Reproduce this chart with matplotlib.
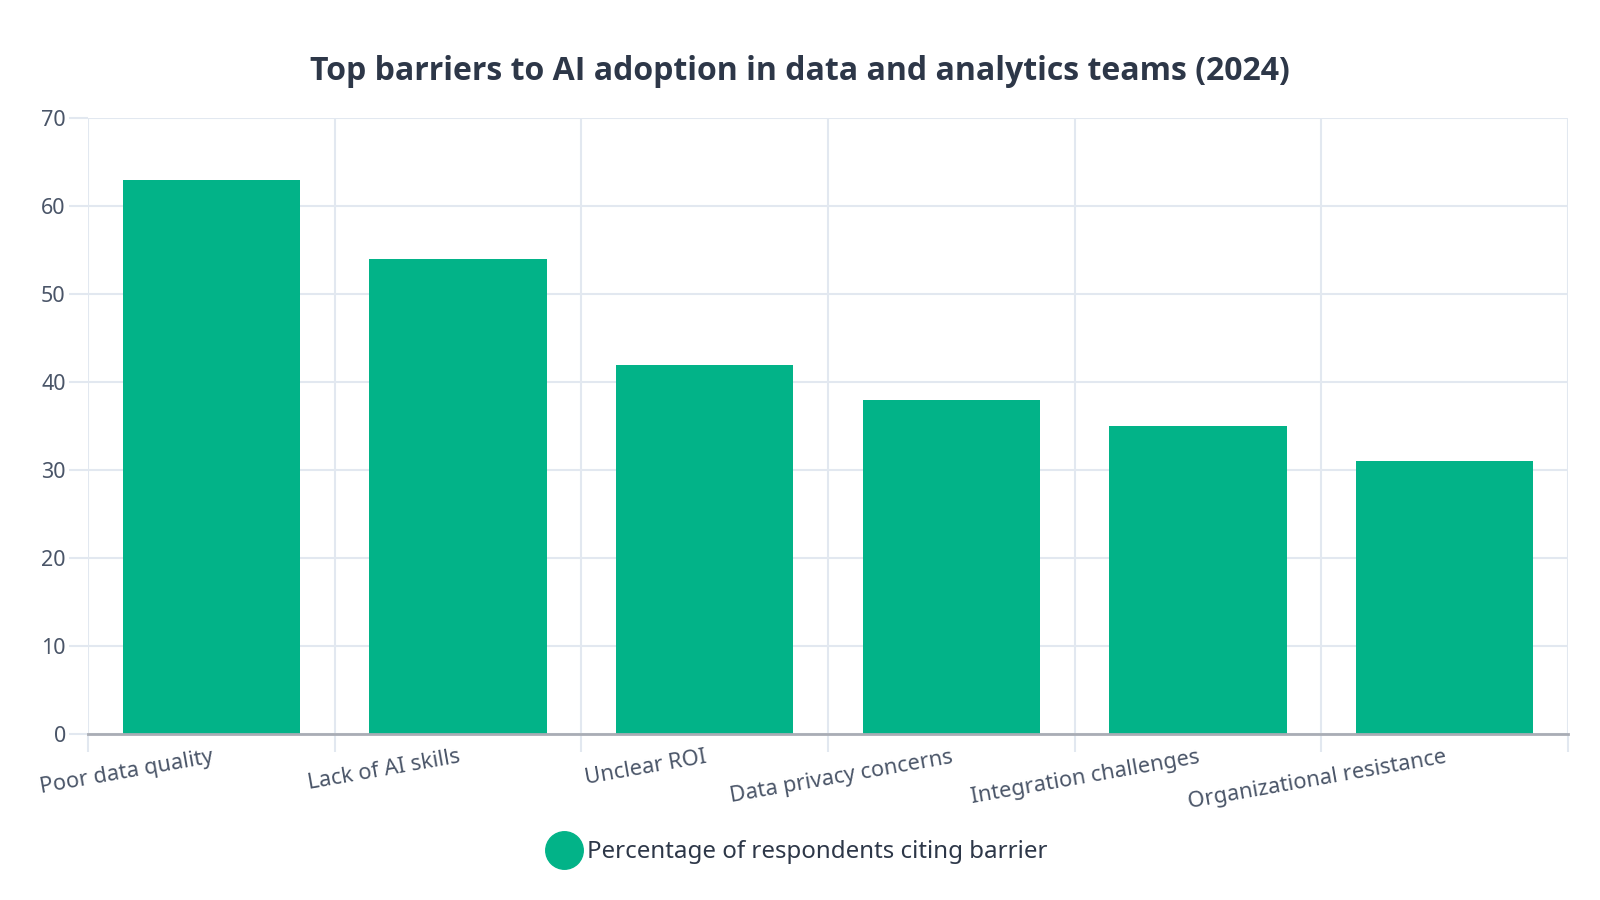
import numpy as np
import matplotlib.pyplot as plt
from matplotlib.lines import Line2D

plt.rcParams['font.family'] = ['Noto Sans', 'DejaVu Sans']

# Datos
barreras = ['Poor data quality', 'Lack of AI skills', 'Unclear ROI',
            'Data privacy concerns', 'Integration challenges',
            'Organizational resistance']
porcentajes = [63, 54, 42, 38, 35, 31]
serie = 'Percentage of respondents citing barrier'
titulo = 'Top barriers to AI adoption in data and analytics teams (2024)'

verde = '#02b388'
rejilla = '#e2e8f0'
texto = '#4a5568'

fig = plt.figure(figsize=(16, 9), dpi=100)
ax = fig.add_axes([0.055, 0.184, 0.925, 0.685])

x = np.arange(len(barreras))
ax.bar(x, porcentajes, width=0.72, color=verde, zorder=3)

ax.set_xlim(-0.5, len(barreras) - 0.5)
ax.set_ylim(0, 70)
ax.set_yticks(range(0, 71, 10))

# lineas verticales entre categorias
bordes = np.arange(-0.5, len(barreras), 1.0)
ax.set_xticks(bordes, minor=True)
ax.set_xticks(x)
ax.set_xticklabels(barreras, rotation=10, ha='right', rotation_mode='anchor',
                   fontsize=15.7, color=texto)
ax.tick_params(axis='x', which='major', length=0, pad=9)
ax.tick_params(axis='x', which='minor', length=13, width=1.5, color=rejilla)
ax.tick_params(axis='y', length=14, width=1.5, color=rejilla, labelsize=15.5,
               labelcolor=texto, pad=2)
ax.grid(axis='x', which='minor', color=rejilla, linewidth=1.5, zorder=0)
ax.grid(axis='y', which='major', color=rejilla, linewidth=1.5, zorder=0)

for lado in ['top', 'left', 'right']:
    ax.spines[lado].set_visible(False)
ax.spines['bottom'].set_color('#a9adb5')
ax.spines['bottom'].set_linewidth(2)
ax.spines['bottom'].set_zorder(4)

fig.suptitle(titulo, x=0.5, y=0.92, va='center', fontsize=23,
             fontweight='bold', color='#2d3748',
             family=['Open Sans', 'DejaVu Sans'])

marca = Line2D([], [], marker='o', linestyle='none', markersize=27,
               markerfacecolor=verde, markeredgecolor=verde)
fig.legend([marca], [serie], loc='center', bbox_to_anchor=(0.5, 0.053),
           frameon=False, fontsize=17.3, labelcolor='#2d3748',
           handletextpad=0.45, handlelength=1.0)

fig.savefig('out.png', dpi=100)
